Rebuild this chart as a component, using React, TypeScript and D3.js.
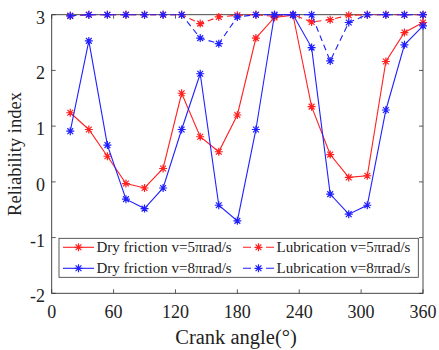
import React from "react";
import * as d3 from "d3";

const angles = [18, 36, 54, 72, 90, 108, 126, 144, 162, 180, 198, 216, 234, 252, 270, 288, 306, 324, 342, 360];
const dry5 = [1.24, 0.94, 0.46, -0.03, -0.11, 0.24, 1.59, 0.81, 0.54, 1.2, 2.58, 2.95, 2.99, 1.35, 0.49, 0.08, 0.11, 2.16, 2.68, 2.86];
const lub5 = [2.98, 3.0, 3.0, 3.0, 3.0, 3.0, 3.0, 2.84, 2.96, 2.99, 3.0, 2.97, 3.0, 2.87, 2.91, 2.99, 3.0, 3.0, 3.0, 3.0];
const dry8 = [0.91, 2.53, 0.66, -0.31, -0.48, -0.11, 0.94, 1.94, -0.42, -0.7, 0.94, 3.0, 3.0, 2.41, -0.22, -0.58, -0.42, 1.29, 2.46, 2.8];
const lub8 = [2.98, 3.0, 3.0, 3.0, 3.0, 3.0, 3.0, 2.58, 2.48, 2.96, 3.0, 3.0, 3.0, 3.0, 2.17, 2.86, 3.0, 3.0, 3.0, 3.0];
const xTicks = [0, 60, 120, 180, 240, 300, 360];
const yTicks = [-2, -1, 0, 1, 2, 3];

const RED = "#ff2020";
const BLUE = "#2020ff";

const series = [
  { name: "Dry friction v=5\u03c0rad/s", values: dry5, color: RED, dashed: false },
  { name: "Lubrication v=5\u03c0rad/s", values: lub5, color: RED, dashed: true },
  { name: "Dry friction v=8\u03c0rad/s", values: dry8, color: BLUE, dashed: false },
  { name: "Lubrication v=8\u03c0rad/s", values: lub8, color: BLUE, dashed: true },
];

const left = 51.7, right = 423, top = 14.7, bottom = 293.3;
const x = d3.scaleLinear().domain([0, 360]).range([left, right]);
const y = d3.scaleLinear().domain([-2, 3]).range([bottom, top]);
const FONT = "'Liberation Serif', 'Times New Roman', serif";

function Star({ cx, cy, color }: { cx: number; cy: number; color: string }) {
  const r = 4, d = 2.9;
  const p = `M${cx - r},${cy}L${cx + r},${cy}M${cx},${cy - r}L${cx},${cy + r}M${cx - d},${cy - d}L${cx + d},${cy + d}M${cx - d},${cy + d}L${cx + d},${cy - d}`;
  return <path d={p} stroke={color} strokeWidth={1.2} fill="none" />;
}

export default function App() {
  const line = d3.line<number>().x((_, i) => x(angles[i])).y((v) => y(v));
  const legendRows = [
    [series[0], series[1]],
    [series[2], series[3]],
  ];
  const legendRowY = [247.3, 268.3];
  const legendCols = [63, 243];
  return (
    <svg width={439} height={350} style={{ position: "absolute", left: 0, top: 0, background: "#fff" }}>
      {/* tick marks, inside on all four sides */}
      {xTicks.map((t) => (
        <g key={"xt" + t}>
          <line x1={x(t)} x2={x(t)} y1={bottom} y2={bottom - 4} stroke="#333" strokeWidth={0.8} />
          <line x1={x(t)} x2={x(t)} y1={top} y2={top + 4} stroke="#333" strokeWidth={0.8} />
          <text x={x(t)} y={318} fontFamily={FONT} fontSize={18} textAnchor="middle" fill="#222">{t}</text>
        </g>
      ))}
      {yTicks.map((t) => (
        <g key={"yt" + t}>
          <line x1={left} x2={left + 4} y1={y(t)} y2={y(t)} stroke="#333" strokeWidth={0.8} />
          <line x1={right} x2={right - 4} y1={y(t)} y2={y(t)} stroke="#333" strokeWidth={0.8} />
          <text x={45} y={y(t) + 9} fontFamily={FONT} fontSize={18} textAnchor="end" fill="#222">{t}</text>
        </g>
      ))}
      <rect x={left} y={top} width={right - left} height={bottom - top} fill="none" stroke="#333" strokeWidth={0.9} />
      {series.map((s) => (
        <g key={s.name}>
          <path d={line(s.values) || ""} fill="none" stroke={s.color} strokeWidth={1.1} strokeDasharray={s.dashed ? "6,4" : undefined} />
          {s.values.map((v, i) => (
            <Star key={i} cx={x(angles[i])} cy={y(v)} color={s.color} />
          ))}
        </g>
      ))}
      <text x={236} y={344} fontFamily={FONT} fontSize={20.5} textAnchor="middle" fill="#222">Crank angle(°)</text>
      <text transform={`translate(21,${(top + bottom) / 2}) rotate(-90)`} fontFamily={FONT} fontSize={18.5} textAnchor="middle" fill="#222">Reliability index</text>
      {/* legend */}
      <rect x={59} y={238.3} width={359.3} height={39} fill="#fff" stroke="#333" strokeWidth={0.8} />
      {legendRows.map((row, ri) =>
        row.map((s, ci) => {
          const lx = legendCols[ci];
          const ly = legendRowY[ri];
          return (
            <g key={s.name}>
              <line x1={lx} x2={lx + 31} y1={ly} y2={ly} stroke={s.color} strokeWidth={1.1} strokeDasharray={s.dashed ? "8,15" : undefined} />
              <Star cx={lx + 15.5} cy={ly} color={s.color} />
              <text x={lx + 33.5} y={ly + 5} fontFamily={FONT} fontSize={15} fill="#222">{s.name}</text>
            </g>
          );
        })
      )}
    </svg>
  );
}
